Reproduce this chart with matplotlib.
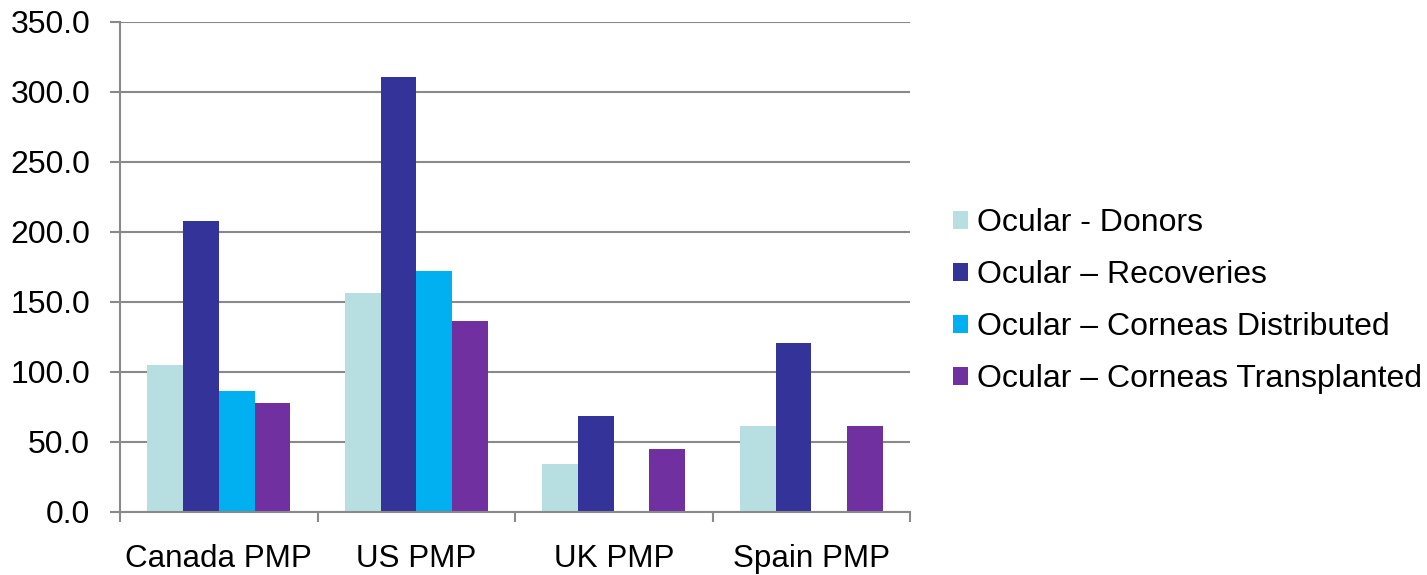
import matplotlib
matplotlib.use("Agg")
import matplotlib.pyplot as plt
import numpy as np

plt.rcParams["font.family"] = ["Liberation Sans", "DejaVu Sans"]

categories = ["Canada PMP", "US PMP", "UK PMP", "Spain PMP"]
series_names = [
    "Ocular - Donors",
    "Ocular \u2013 Recoveries",
    "Ocular \u2013 Corneas Distributed",
    "Ocular \u2013 Corneas Transplanted",
]
donors = [104.8, 156.2, 34.0, 61.2]
recoveries = [207.6, 310.5, 68.6, 120.3]
distributed = [86.0, 171.9, 0.0, 0.0]
transplanted = [77.4, 136.2, 44.8, 61.0]
colors = ["#B7DEE1", "#333399", "#00B0F0", "#7030A0"]

series = [donors, recoveries, distributed, transplanted]

FS = 23

fig = plt.figure(figsize=(14.27, 5.75), dpi=100)
ax = fig.add_axes([0.0841, 0.1101, 0.5536, 0.8522])

x = np.arange(len(categories))
bar_w = 0.181
offsets = (np.arange(4) - 1.5) * bar_w
for vals, off, col, name in zip(series, offsets, colors, series_names):
    ax.bar(x + off, vals, width=bar_w, color=col, label=name, zorder=3,
           linewidth=0)

ax.set_xlim(-0.5, len(categories) - 0.5)
ax.set_ylim(0, 350)
ax.set_yticks(np.arange(0, 351, 50))
ax.set_yticklabels([f"{v:.1f}" for v in np.arange(0, 351, 50)])

grid_col = "#898989"
ax.yaxis.grid(True, color=grid_col, linewidth=1.5, zorder=0)
ax.set_axisbelow(True)
for s in ["top", "right"]:
    ax.spines[s].set_visible(False)
for s in ["left", "bottom"]:
    ax.spines[s].set_color(grid_col)
    ax.spines[s].set_linewidth(1.5)
    ax.spines[s].set_zorder(4)

# category labels centred, ticks on the category boundaries
ax.set_xticks(np.arange(-0.5, len(categories), 1.0))
ax.set_xticklabels([])
ax.set_xticks(x, minor=True)
ax.set_xticklabels(categories, minor=True)
ax.tick_params(axis="x", which="major", length=7.5, width=1.5, color=grid_col,
               direction="out")
ax.tick_params(axis="x", which="minor", length=0, pad=23, labelsize=22.6)
ax.tick_params(axis="y", length=7.5, width=1.5, color=grid_col, pad=14,
               labelsize=FS)

fig.legend(loc="center left", bbox_to_anchor=(0.6675, 0.4765), frameon=False,
           fontsize=FS, handlelength=0.5, handleheight=0.5,
           handletextpad=0.28, labelspacing=0.69, borderpad=0, borderaxespad=0)

fig.savefig("out.png", dpi=100)
